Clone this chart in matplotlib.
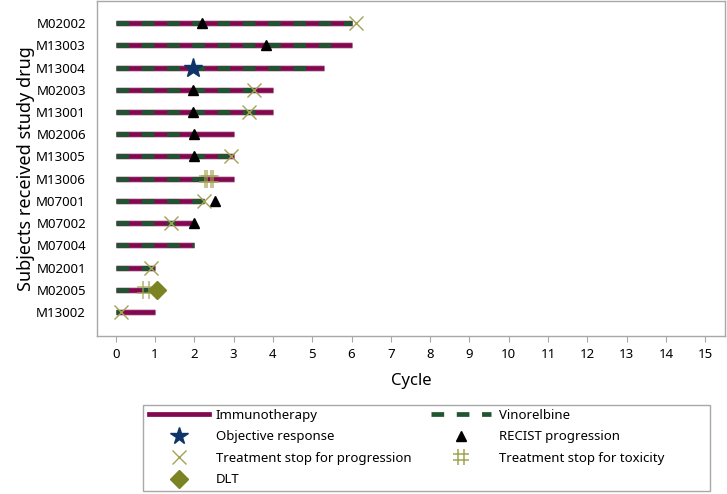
import matplotlib
matplotlib.use("Agg")
import matplotlib.pyplot as plt
import matplotlib.patheffects as pe
from matplotlib.lines import Line2D
from matplotlib.patches import Rectangle
from matplotlib.path import Path

plt.rcParams["font.family"] = ["Noto Sans", "DejaVu Sans"]
plt.rcParams["lines.scale_dashes"] = False

# subjects, top to bottom
subjects = ["M02002", "M13003", "M13004", "M02003", "M13001", "M02006", "M13005",
            "M13006", "M07001", "M07002", "M07004", "M02001", "M02005", "M13002"]
immuno_end = [6.0, 6.0, 5.3, 4.0, 4.0, 3.0, 3.0, 3.0, 2.25, 1.95, 2.0, 1.0, 1.0, 1.0]
vino_end = [6.0, 5.7, 5.0, 3.6, 3.6, 1.8, 2.95, 2.4, 2.25, 1.5, 2.0, 1.0, 0.9, 0.14]

# events (subject, cycle)
objective_subj = ["M13004"]
objective_x = [1.97]
recist_subj = ["M02002", "M13003", "M02003", "M13001", "M02006", "M13005", "M07001", "M07002"]
recist_x = [2.19, 3.82, 1.97, 1.97, 2.0, 2.0, 2.53, 2.0]
stop_prog_subj = ["M02002", "M02003", "M13001", "M13005", "M07001", "M07002", "M02001", "M13002"]
stop_prog_x = [6.12, 3.53, 3.39, 2.93, 2.25, 1.42, 0.91, 0.14]
stop_tox_subj = ["M13006", "M13006", "M02005"]
stop_tox_x = [2.36, 2.40, 0.78]
dlt_subj = ["M02005"]
dlt_x = [1.04]

PURPLE = "#82084f"
GREEN = "#1f5530"
NAVY = "#0e3468"
OLIVE_X = "#a3a352"
OLIVE_D = "#7b8322"
GRID = "#a8a8a8"

# "#" marker
hash_marker = Path(
    [(-0.5, 0.19), (0.5, 0.19), (-0.5, -0.19), (0.5, -0.19),
     (0.19, -0.5), (0.19, 0.5), (-0.19, -0.5), (-0.19, 0.5)],
    [Path.MOVETO, Path.LINETO] * 4,
)

fig = plt.figure(figsize=(7.27, 4.94), dpi=100)
ax = fig.add_axes([97 / 727, 1 - 336 / 494, 628 / 727, 335 / 494])

ypos = {s: i for i, s in enumerate(subjects)}
halo = [pe.withStroke(linewidth=4.8, foreground="#d6b9c9")]

for i, s in enumerate(subjects):
    ax.plot([0, immuno_end[i]], [i, i], color=PURPLE, lw=3.4,
            solid_capstyle="butt", path_effects=halo, zorder=2)
    ax.plot([0, vino_end[i]], [i, i], color=GREEN, lw=3.4,
            dash_capstyle="butt", dashes=(9.1, 9.1), zorder=3)

ms_kw = dict(linestyle="none", zorder=5)
ax.plot(objective_x, [ypos[s] for s in objective_subj], marker="*", ms=14,
        color=NAVY, mec=NAVY, **ms_kw)
ax.plot(recist_x, [ypos[s] for s in recist_subj], marker="^", ms=7,
        color="black", **ms_kw)
ax.plot(stop_prog_x, [ypos[s] for s in stop_prog_subj], marker="x", ms=10,
        mew=1.0, color=OLIVE_X, **ms_kw)
ax.plot(stop_tox_x, [ypos[s] for s in stop_tox_subj], marker=hash_marker, ms=13,
        mew=1.1, color=OLIVE_X, mfc="none", alpha=0.8, **ms_kw)
ax.plot(dlt_x, [ypos[s] for s in dlt_subj], marker="D", ms=9,
        color=OLIVE_D, mec=OLIVE_D, **ms_kw)

ax.set_xlim(-0.475, 15.5)
ax.set_ylim(14.07, -0.99)
ax.set_xticks(range(16))
ax.set_yticks(range(len(subjects)))
ax.set_yticklabels(subjects)
ax.tick_params(axis="x", length=4, color=GRID, labelsize=9.5, pad=5)
ax.tick_params(axis="y", length=0, labelsize=9.5, pad=8)
for sp in ax.spines.values():
    sp.set_color(GRID)
    sp.set_linewidth(1.0)
ax.set_xlabel("Cycle", fontsize=12, labelpad=8)
ax.set_ylabel("Subjects received study drug", fontsize=13, labelpad=1)

handles = [
    Line2D([], [], color=PURPLE, lw=3.4),
    Line2D([], [], marker="*", ms=13, color=NAVY, linestyle="none"),
    Line2D([], [], marker="x", ms=10, mew=1.0, color=OLIVE_X, linestyle="none"),
    Line2D([], [], marker="D", ms=9, color=OLIVE_D, linestyle="none"),
    Line2D([], [], color=GREEN, lw=3.4, dashes=(9.1, 9.1), dash_capstyle="butt"),
    Line2D([], [], marker="^", ms=6.5, color="black", linestyle="none"),
    Line2D([], [], marker=hash_marker, ms=12, mew=1.1, color=OLIVE_X, mfc="none",
           linestyle="none"),
]
labels = ["Immunotherapy", "Objective response", "Treatment stop for progression", "DLT",
          "Vinorelbine", "RECIST progression", "Treatment stop for toxicity"]
fig.legend(handles, labels, ncol=2, loc="upper left",
           bbox_to_anchor=(146 / 727, 1 - 406 / 494), frameon=False, fontsize=9.5,
           handlelength=4.55, handletextpad=0.55, columnspacing=1.5,
           labelspacing=0.65, borderpad=0.2, borderaxespad=0)
fig.add_artist(Rectangle((143 / 727, 1 - 491 / 494), 567 / 727, 86 / 494,
                         transform=fig.transFigure, fill=False, edgecolor=GRID, lw=1.0))

fig.savefig("out.png", dpi=100)
